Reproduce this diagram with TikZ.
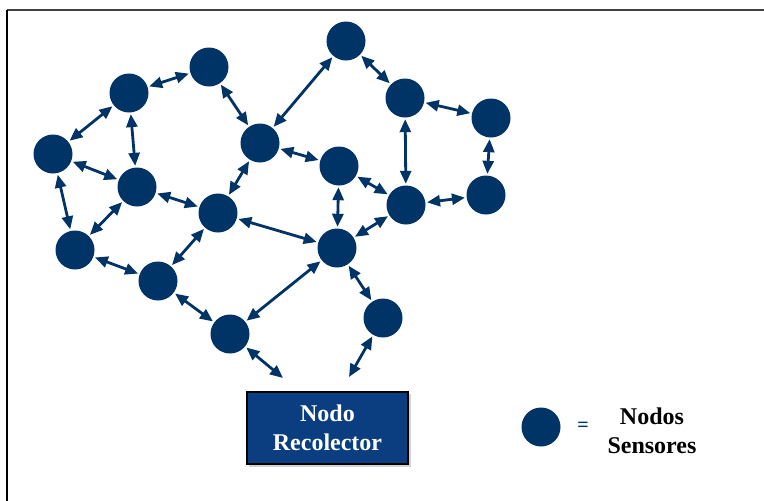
\documentclass[tikz,border=0pt]{standalone}
\usepackage{fontspec}
\setmainfont{Liberation Serif}
\usetikzlibrary{arrows.meta}
\definecolor{navy}{RGB}{0,51,102}
\definecolor{boxblue}{RGB}{10,62,128}
\begin{document}
\begin{tikzpicture}[x=1pt,y=-1pt,
  sensor/.style={circle,fill=navy,minimum size=39pt,inner sep=0pt},
  link/.style={navy,line width=2.8pt,
    {Triangle[length=13pt,width=11pt]}-{Triangle[length=13pt,width=11pt]},
    shorten <=1.5pt,shorten >=1.5pt},
  boldtext/.style={font=\fontsize{24}{29}\selectfont\bfseries,align=center}]
\useasboundingbox (0,0) rectangle (764,501);
\fill[white] (0,0) rectangle (764,501);
% frame edges
\draw[black!75,line width=2pt] (7,10) -- (764,10);
\draw[black,line width=2pt] (7,10) -- (7,501);

% sensor nodes
\node[sensor] (A) at (129,93) {};
\node[sensor] (B) at (209,67) {};
\node[sensor] (C) at (346,41) {};
\node[sensor] (D) at (405,98) {};
\node[sensor] (E) at (491,118) {};
\node[sensor] (F) at (53,154) {};
\node[sensor] (G) at (137,187) {};
\node[sensor] (H) at (260,143) {};
\node[sensor] (I) at (339,166) {};
\node[sensor] (J) at (406,205) {};
\node[sensor] (K) at (486,195) {};
\node[sensor] (L) at (218,213) {};
\node[sensor] (M) at (75,250) {};
\node[sensor] (N) at (337,248) {};
\node[sensor] (O) at (158,281) {};
\node[sensor] (P) at (230,334) {};
\node[sensor] (Q) at (383,318) {};

% collector node
\fill[gray!35] (249,394) rectangle (411,467);
\node[draw=black,line width=1.5pt,fill=boxblue,minimum width=161pt,minimum height=72pt,
      text=white,boldtext] (R) at (327.5,428) {Nodo\\Recolector};

% free ends of the collector links
\coordinate (pR) at (283,378);
\coordinate (qR) at (349,377);

% links
\foreach \a/\b in {A/B,A/F,A/G,F/G,F/M,G/L,G/M,B/H,H/C,C/D,D/E,D/J,E/K,H/I,H/L,
                   I/J,I/N,J/K,J/N,L/N,L/O,M/O,O/P,N/P,N/Q}
  \draw[link] (\a) -- (\b);
\draw[link,shorten >=0pt] (P) -- (pR);
\draw[link,shorten >=0pt] (Q) -- (qR);

% legend
\node[sensor] (S) at (541,427) {};
\node[text=navy,font=\fontsize{20}{20}\selectfont\bfseries] (eq) at (583,427) {=};
\node[boldtext] (lg) at (652,431) {Nodos\hspace{8pt}\\Sensores};
\end{tikzpicture}
\end{document}
